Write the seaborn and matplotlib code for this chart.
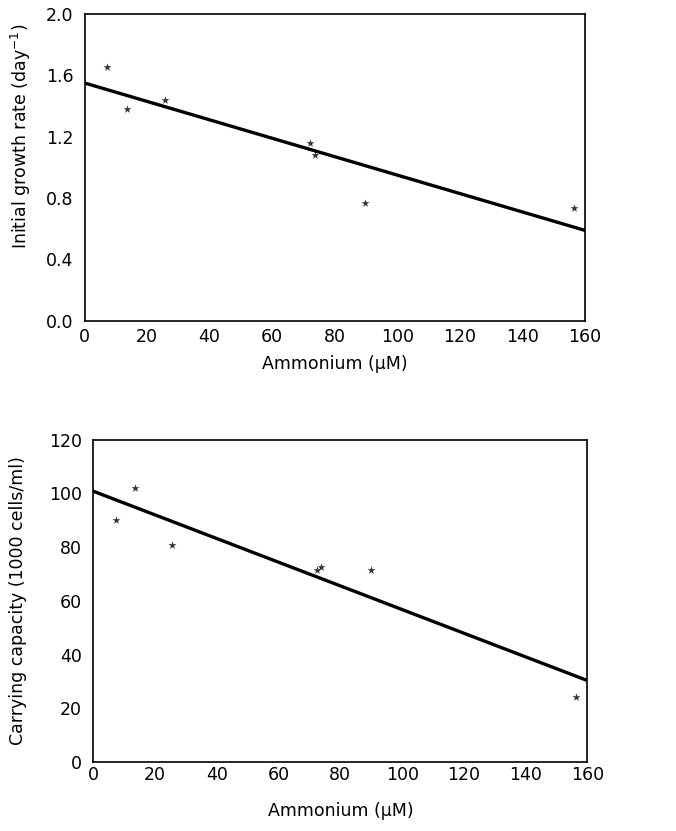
"""
Initial growth rate and carrying capacity against ammonium concentration
"""

import matplotlib.pyplot as plt
import pandas as pd
import seaborn as sns
from matplotlib.ticker import FormatStrFormatter

# values
AMMONIUM_RATE = [7.1, 13.5, 25.7, 72.1, 73.7, 89.7, 156.5]
GROWTH_RATE = [1.657, 1.379, 1.44, 1.162, 1.081, 0.767, 0.738]

AMMONIUM_CAP = [7.25, 13.5, 25.6, 72.3, 73.6, 89.9, 156.3]
CARRYING_CAPACITY = [90.2, 102.0, 80.6, 71.6, 72.6, 71.3, 24.1]

X_TICKS = [0, 20, 40, 60, 80, 100, 120, 140, 160]
RATE_TICKS = [0.0, 0.4, 0.8, 1.2, 1.6, 2.0]
CAP_TICKS = [0, 20, 40, 60, 80, 100, 120]

FONT_SIZE = 12.5

sns.set_theme(style="white")
plt.rcParams["font.family"] = ["DejaVu Sans"]
plt.rcParams["mathtext.fontset"] = "dejavusans"


def draw_panel(ax, x, y, yticks, ylabel, fmt, ylabel_pad, xtick_pad, xlabel_pad):
    """Scatter of stars plus a least-squares line across the full x-range."""
    df = pd.DataFrame({"x": x, "y": y})
    ax.set_xlim(0, 160)
    ax.set_ylim(yticks[0], yticks[-1])
    sns.regplot(
        data=df, x="x", y="y", ax=ax, ci=None, truncate=False,
        marker="*", color="black",
        scatter_kws={"s": 36, "linewidths": 0},
        line_kws={"lw": 2.4, "color": "black"},
    )
    ax.set_xlim(0, 160)
    ax.set_ylim(yticks[0], yticks[-1])
    ax.set_xticks(X_TICKS)
    ax.set_yticks(yticks)
    ax.yaxis.set_major_formatter(FormatStrFormatter(fmt))
    ax.tick_params(length=0, labelsize=FONT_SIZE, colors="black")
    ax.tick_params(axis="y", pad=8)
    ax.tick_params(axis="x", pad=xtick_pad)
    ax.set_xlabel("Ammonium (\u03bcM)", fontsize=FONT_SIZE, color="black",
                  labelpad=xlabel_pad)
    ax.set_ylabel(ylabel, fontsize=FONT_SIZE, color="black", labelpad=ylabel_pad)
    for spine in ax.spines.values():
        spine.set_color("black")
        spine.set_linewidth(1.2)


fig = plt.figure(figsize=(6.76, 8.31), dpi=100)
ax_top = fig.add_axes([0.125, 0.614, 0.740, 0.369])
ax_bot = fig.add_axes([0.138, 0.083, 0.731, 0.388])

draw_panel(ax_top, AMMONIUM_RATE, GROWTH_RATE, RATE_TICKS,
           "Initial growth rate (day$^{-1}$)", "%.1f", 9, 5, 7)
draw_panel(ax_bot, AMMONIUM_CAP, CARRYING_CAPACITY, CAP_TICKS,
           "Carrying capacity (1000 cells/ml)", "%d", 16, 3, 13)

# the top y-label sits above the axes centre in the reference
ax_top.yaxis.label.set_y(0.6)

fig.savefig("out.png", dpi=100)
